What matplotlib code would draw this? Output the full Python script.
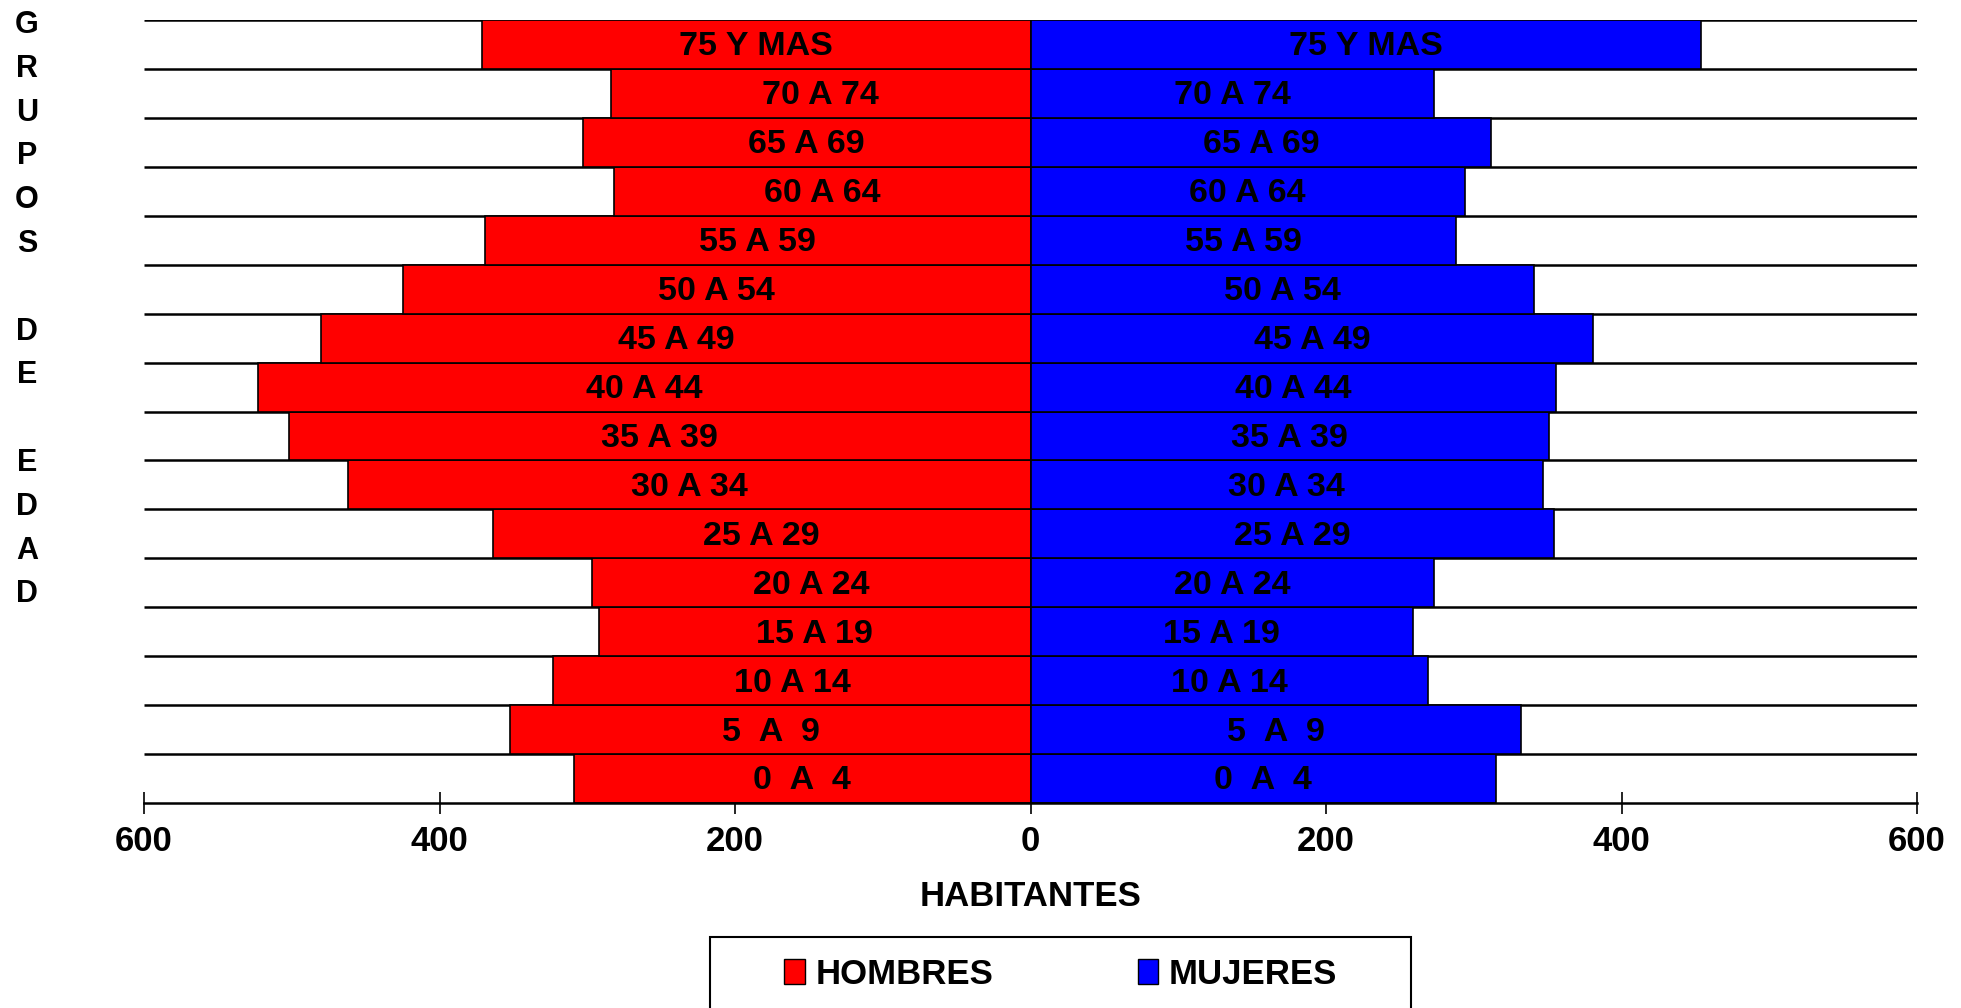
import matplotlib.pyplot as plt
from matplotlib.patches import Patch, Rectangle

# grupos de edad (de abajo hacia arriba)
grupos = ['0  A  4', '5  A  9', '10 A 14', '15 A 19', '20 A 24', '25 A 29',
          '30 A 34', '35 A 39', '40 A 44', '45 A 49', '50 A 54', '55 A 59',
          '60 A 64', '65 A 69', '70 A 74', '75 Y MAS']
hombres = [309, 352, 323, 292, 297, 364, 462, 502, 523, 480, 425, 369,
           282, 303, 284, 371]
mujeres = [315, 332, 269, 259, 273, 354, 347, 351, 356, 381, 341, 288,
           294, 312, 273, 454]
ticks = [-600, -400, -200, 0, 200, 400, 600]
tick_labels = ['600', '400', '200', '0', '200', '400', '600']
letras = ['G', 'R', 'U', 'P', 'O', 'S', '', 'D', 'E', '', 'E', 'D', 'A', 'D']

plt.rcParams['font.family'] = ['Liberation Sans', 'DejaVu Sans']
plt.rcParams['font.weight'] = 'bold'

W, H = 1961, 1008
fig = plt.figure(figsize=(W / 100, H / 100), dpi=100)
ax = fig.add_axes([144 / W, 1 - 803 / H, (1917 - 144) / W, (803 - 20) / H])

y = range(len(grupos))
ax.barh(y, [-v for v in hombres], height=1.0, color='#FF0000',
        edgecolor='black', linewidth=1.2, zorder=3)
ax.barh(y, mujeres, height=1.0, color='#0000FF',
        edgecolor='black', linewidth=1.2, zorder=3)

for i, g in enumerate(grupos):
    ax.text(-hombres[i] / 2, i - 0.05, g, ha='center', va='center',
            fontsize=24.5, fontweight='bold', color='black', zorder=4)
    ax.text(mujeres[i] / 2, i - 0.05, g, ha='center', va='center',
            fontsize=24.5, fontweight='bold', color='black', zorder=4)

# lineas horizontales entre grupos
ax.hlines([i + 0.5 for i in y], -600, 600, color='black', linewidth=1.8, zorder=2)

ax.set_xlim(-600, 600)
ax.set_ylim(-0.5, len(grupos) - 0.5)
ax.set_xticks(ticks)
ax.set_xticklabels(tick_labels, fontsize=25, fontweight='bold')
ax.tick_params(axis='x', direction='inout', length=16, width=1.2, pad=8)
ax.set_yticks([])
for s in ['left', 'right', 'top']:
    ax.spines[s].set_visible(False)
ax.spines['bottom'].set_linewidth(1.8)
ax.spines['bottom'].set_zorder(5)
ax.set_xlabel('HABITANTES', fontsize=25, fontweight='bold', labelpad=16)

# etiqueta vertical
for k, c in enumerate(letras):
    fig.text(27 / W, 1 - (25 + 43.8 * k) / H, c, ha='center', va='center',
             fontsize=22, fontweight='bold')

# leyenda
fig.patches.append(Rectangle((710 / W, -0.02), 701 / W, 1 - 937 / H + 0.02,
                             transform=fig.transFigure, facecolor='white',
                             edgecolor='black', linewidth=1.5))
handles = [Patch(facecolor='#FF0000', edgecolor='black', label='HOMBRES'),
           Patch(facecolor='#0000FF', edgecolor='black', label='MUJERES')]
fig.legend(handles=handles, loc='center left', ncol=2,
           bbox_to_anchor=(767 / W, 1 - 974 / H), frameon=False,
           handlelength=0.6, handleheight=0.7,
           handletextpad=0.3, columnspacing=4.15, borderpad=0,
           prop={'weight': 'bold', 'size': 25})

fig.savefig('out.png', dpi=100)
